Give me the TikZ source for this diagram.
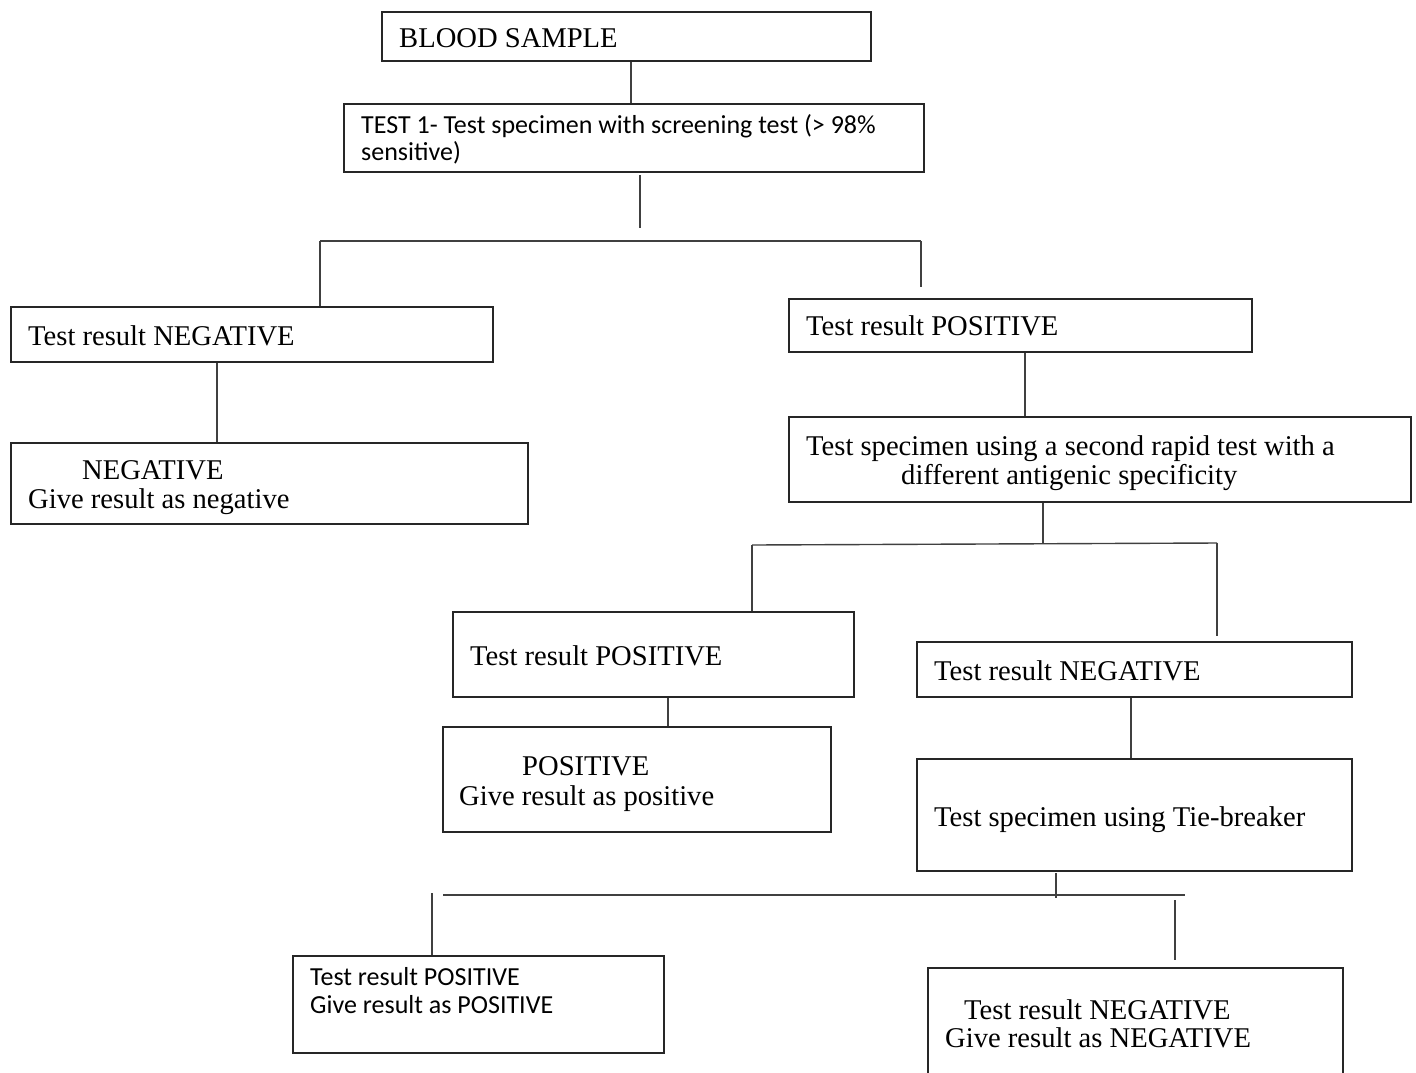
\documentclass[tikz,border=0pt]{standalone}
\usepackage{fontspec}
\setmainfont{Liberation Serif}
\newfontfamily\calib{Carlito}
\begin{document}
\begin{tikzpicture}[x=1pt,y=-1pt,
  box/.style={draw=black!85,line width=2.2pt,rectangle,inner sep=0pt,anchor=north west},
  conn/.style={draw=black!75,line width=1.4pt},
  txt/.style={anchor=base west,inner sep=0pt,font=\fontsize{28.6}{34}\selectfont},
  stxt/.style={anchor=base west,inner sep=0pt,font=\calib\fontsize{26}{31}\selectfont}]
\useasboundingbox (0,0) rectangle (1416,1072);
\fill[white] (0,0) rectangle (1416,1072);
% boxes
\node[box,minimum width=489pt,minimum height=49pt] (blood) at (381,11) {};
\node[txt] (bloodt) at (399,47) {BLOOD SAMPLE};
\node[box,minimum width=580pt,minimum height=68pt] (test1) at (343,103) {};
\node[stxt] (test1a) at (361,133) {TEST 1- Test specimen with screening test (> 98\%};
\node[stxt] (test1b) at (361,160) {sensitive)};
\node[box,minimum width=482pt,minimum height=55pt] (neg1) at (10,306) {};
\node[txt] (neg1t) at (28,345) {Test result NEGATIVE};
\node[box,minimum width=463pt,minimum height=53pt] (pos1) at (788,298) {};
\node[txt] (pos1t) at (806,335) {Test result POSITIVE};
\node[box,minimum width=517pt,minimum height=81pt] (neg2) at (10,442) {};
\node[txt] (neg2a) at (82,479) {NEGATIVE};
\node[txt] (neg2b) at (28,508) {Give result as negative};
\node[box,minimum width=622pt,minimum height=85pt] (second) at (788,416) {};
\node[txt] (seca) at (806,455) {Test specimen using a second rapid test with a};
\node[txt] (secb) at (901,484) {different antigenic specificity};
\node[box,minimum width=401pt,minimum height=85pt] (pos2) at (452,611) {};
\node[txt] (pos2t) at (470,665) {Test result POSITIVE};
\node[box,minimum width=435pt,minimum height=55pt] (neg3) at (916,641) {};
\node[txt] (neg3t) at (934,680) {Test result NEGATIVE};
\node[box,minimum width=388pt,minimum height=105pt] (pos3) at (442,726) {};
\node[txt] (pos3a) at (522,775) {POSITIVE};
\node[txt] (pos3b) at (459,805) {Give result as positive};
\node[box,minimum width=435pt,minimum height=112pt] (tie) at (916,758) {};
\node[txt] (tiet) at (934,826) {Test specimen using Tie-breaker};
\node[box,minimum width=371pt,minimum height=97pt] (fpos) at (292,955) {};
\node[stxt] (fposa) at (310,985) {Test result POSITIVE};
\node[stxt] (fposb) at (310,1013) {Give result as POSITIVE};
\node[box,minimum width=415pt,minimum height=120pt] (fneg) at (927,967) {};
\node[txt] (fnega) at (964,1019) {Test result NEGATIVE};
\node[txt] (fnegb) at (945,1047) {Give result as NEGATIVE};
% junction coordinates
\coordinate (a1) at (631,0);
\coordinate (b1) at (640,175);
\coordinate (b2) at (640,228);
\coordinate (h1l) at (320,241);
\coordinate (h1r) at (921,241);
\coordinate (e2) at (921,287);
\coordinate (f1) at (217,0);
\coordinate (g1) at (1025,0);
\coordinate (h2) at (1043,0);
\coordinate (h2e) at (1043,544);
\coordinate (i1) at (752,545);
\coordinate (i2) at (1217,543);
\coordinate (k2) at (1217,636);
\coordinate (l1) at (668,0);
\coordinate (m1) at (1131,0);
\coordinate (n1) at (1056,873);
\coordinate (n2) at (1056,898);
\coordinate (o1) at (443,895);
\coordinate (o2) at (1185,895);
\coordinate (p1) at (432,893);
\coordinate (q1) at (1175,900);
\coordinate (q2) at (1175,960);
% connectors
\draw[conn] (blood.south -| a1) -- (test1.north -| a1);
\draw[conn] (b1) -- (b2);
\draw[conn] (h1l) -- (h1r);
\draw[conn] (h1l) -- (neg1.north -| h1l);
\draw[conn] (h1r) -- (e2);
\draw[conn] (neg1.south -| f1) -- (neg2.north -| f1);
\draw[conn] (pos1.south -| g1) -- (second.north -| g1);
\draw[conn] (second.south -| h2) -- (h2e);
\draw[conn] (i1) -- (i2);
\draw[conn] (i1) -- (pos2.north -| i1);
\draw[conn] (i2) -- (k2);
\draw[conn] (pos2.south -| l1) -- (pos3.north -| l1);
\draw[conn] (neg3.south -| m1) -- (tie.north -| m1);
\draw[conn] (n1) -- (n2);
\draw[conn] (o1) -- (o2);
\draw[conn] (p1) -- (fpos.north -| p1);
\draw[conn] (q1) -- (q2);
\end{tikzpicture}
\end{document}
